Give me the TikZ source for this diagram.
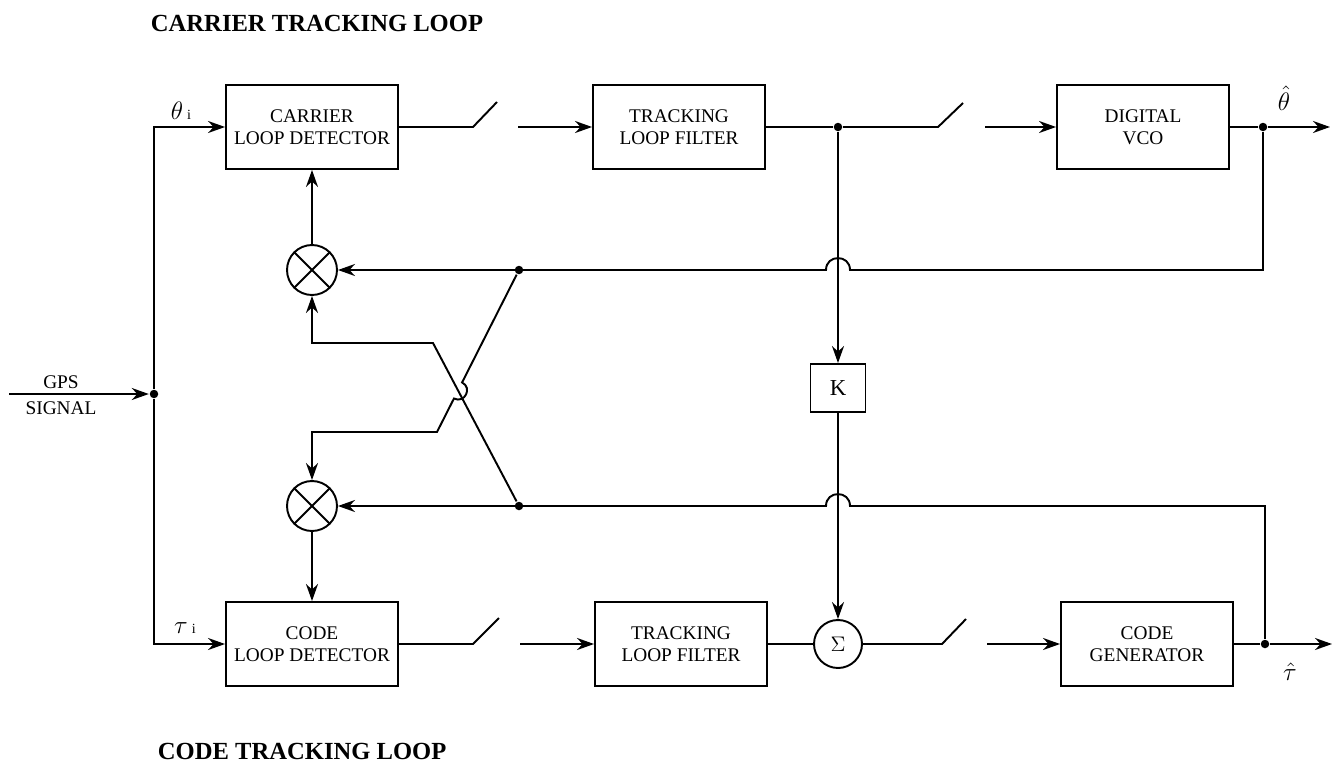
\documentclass[tikz,border=0pt]{standalone}
\usepackage{fontspec}
\setmainfont{Liberation Serif}
\usepackage{tikz}
\usetikzlibrary{positioning,arrows.meta,calc}

\tikzset{
  block/.style={draw, rectangle, minimum width=3.44cm, minimum height=1.68cm,
    align=center, inner sep=0pt, font=\fontsize{11}{12.5}\selectfont},
  mixer/.style={draw, circle, minimum size=1cm, inner sep=0pt},
  junction/.style={circle, fill, inner sep=0pt, minimum size=0.17cm},
  sig/.style={-{Stealth[length=0.34cm,width=0.24cm,inset=0.11cm]}},
  lbl/.style={font=\fontsize{14}{16}\selectfont},
  looptitle/.style={anchor=west, inner sep=0pt, font=\fontsize{14}{16}\selectfont\bfseries},
}

\begin{document}
\begin{tikzpicture}[x=0.02cm, y=-0.02cm, line width=1.1pt]
                \useasboundingbox (0,0) rectangle (1338,764);

                % Titles
                \node[looptitle] (ctitle) at (150,23) {CARRIER TRACKING LOOP};
                \node[looptitle] (dtitle) at (157,751) {CODE TRACKING LOOP};

                % Carrier loop blocks
                \node[block] (cdet) at (312,127) {CARRIER\\LOOP DETECTOR};
                \node[block] (tfa) at (679,127) {TRACKING\\LOOP FILTER};
                \node[block] (vco) at (1143,127) {DIGITAL\\VCO};

                % Code loop blocks
                \node[block] (codedet) at (312,644) {CODE\\LOOP DETECTOR};
                \node[block] (tfb) at (681,644) {TRACKING\\LOOP FILTER};
                \node[block] (cgen) at (1147,644) {CODE\\GENERATOR};

                % Mixers, gain and sum
                \node[mixer] (mula) at (312,270) {};
                \node[mixer] (mulb) at (312,506) {};
                \foreach \m in {mula,mulb}
                  \draw (\m.north west) -- (\m.south east) (\m.north east) -- (\m.south west);
                \node[draw, minimum width=1.1cm, minimum height=0.96cm, inner sep=0pt,
                  font=\fontsize{13}{15}\selectfont] (kgain) at (838,388) {K};
                \node[mixer, minimum size=0.96cm, font=\fontsize{13}{15}\selectfont] (sum) at (838,644) {$\Sigma$};

                % Junctions and free ends
                \coordinate (gpsin) at (9,394);
                \node[junction] (gpsdot) at (154,394) {};
                \node[junction] (kdot) at (838,127) {};
                \node[junction] (thdot) at (1263,127) {};
                \coordinate (thout) at (1330,127);
                \node[junction] (taudot) at (1265,644) {};
                \coordinate (tauout) at (1332,644);
                \node[junction] (da) at (519,270) {};
                \node[junction] (db) at (519,506) {};
                \coordinate (bendA) at (433,343);
                \coordinate (bendB) at (437,432);

                % Switch contacts
                \coordinate (swa1) at (473,127); \coordinate (swa2) at (497,102); \coordinate (swa3) at (518,127);
                \coordinate (swb1) at (938,127); \coordinate (swb2) at (963,103); \coordinate (swb3) at (985,127);
                \coordinate (swc1) at (473,644); \coordinate (swc2) at (499,618); \coordinate (swc3) at (520,644);
                \coordinate (swd1) at (942,644); \coordinate (swd2) at (966,619); \coordinate (swd3) at (987,644);

                % GPS signal input
                \draw[sig] (gpsin) -- (gpsdot);
                \node[font=\fontsize{11}{12}\selectfont] (gpslbl) at (61,382) {GPS};
                \node[font=\fontsize{11}{12}\selectfont] (siglbl) at (61,408) {SIGNAL};
                \draw[sig] (gpsdot) |- (cdet);
                \draw[sig] (gpsdot) |- (codedet);
                \node[lbl] (thin) at (181,111) {$\theta$\,{\footnotesize i}};
                \node[lbl] (tauin) at (185,628) {$\tau$\,{\footnotesize i}};

                % Carrier forward path
                \draw (cdet) -- (swa1) -- (swa2);
                \draw[sig] (swa3) -- (tfa);
                \draw (tfa) -- (kdot) -- (swb1) -- (swb2);
                \draw[sig] (swb3) -- (vco);
                \draw (vco) -- (thdot);
                \draw[sig] (thdot) -- (thout);
                \node[lbl] (thhat) at (1284,98) {$\hat{\theta}$};

                % Code forward path
                \draw (codedet) -- (swc1) -- (swc2);
                \draw[sig] (swc3) -- (tfb);
                \draw (tfb) -- (sum) -- (swd1) -- (swd2);
                \draw[sig] (swd3) -- (cgen);
                \draw (cgen) -- (taudot);
                \draw[sig] (taudot) -- (tauout);
                \node[lbl] (tauhat) at (1290,672) {$\hat{\tau}$};

                % Aiding path through K
                \draw[sig] (kdot) -- (kgain);
                \draw[sig] (kgain) -- (sum);

                % Feedback lines, hopping over the K path
                \draw[sig] (thdot) |- ($(kdot |- mula)+(12,0)$)
                  to[bend right=90, looseness=1.7] ($(kdot |- mula)+(-12,0)$) -- (mula);
                \draw[sig] (taudot) |- ($(kdot |- mulb)+(12,0)$)
                  to[bend right=90, looseness=1.7] ($(kdot |- mulb)+(-12,0)$) -- (mulb);

                % Cross coupling between the loops
                \draw[sig] (db) -- (bendA) -- (bendA -| mula) -- (mula);
                \coordinate (cross) at ($(da)!0.7436!(bendB)$);
                \draw[sig] (da) -- ($(cross)!0.18cm!(da)$)
                  to[bend left=90, looseness=1.7] ($(cross)!0.18cm!(bendB)$)
                  -- (bendB) -- (bendB -| mulb) -- (mulb);

                % Mixer outputs to detectors
                \draw[sig] (mula) -- (cdet);
                \draw[sig] (mulb) -- (codedet);
            \end{tikzpicture}
\end{document}
